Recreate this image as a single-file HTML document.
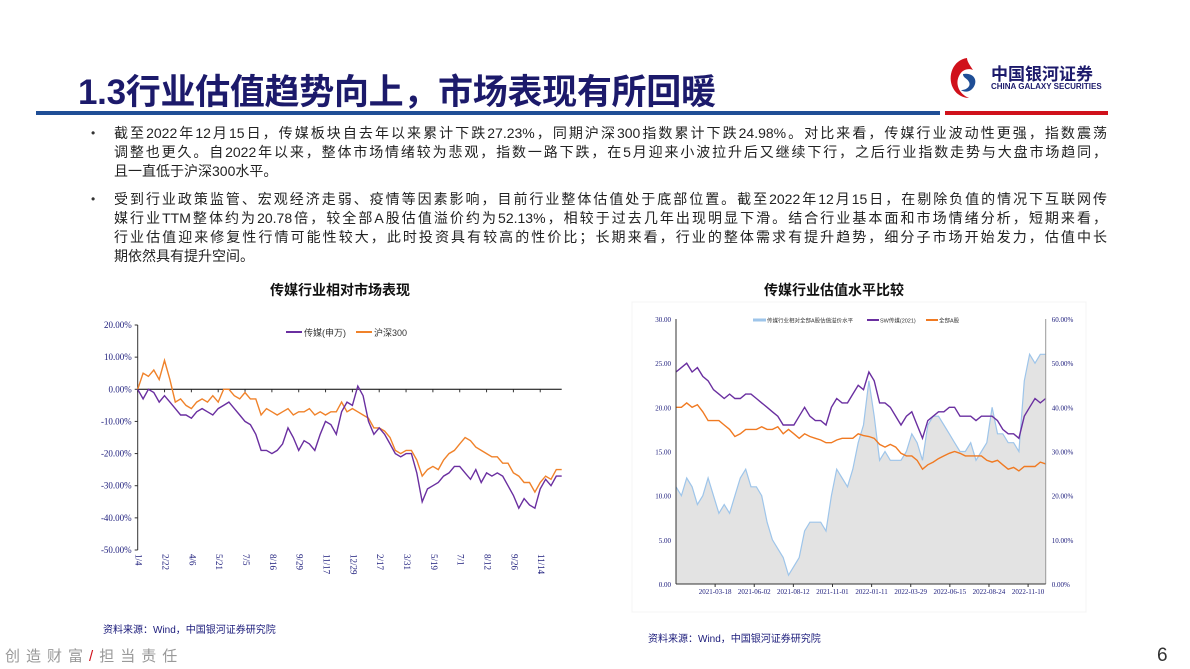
<!DOCTYPE html>
<html><head><meta charset="utf-8">
<style>
*{margin:0;padding:0;box-sizing:border-box}
body{width:1190px;height:669px;background:#fff;position:relative;overflow:hidden;font-family:"Liberation Sans","Noto Sans CJK SC",sans-serif}
.abs{position:absolute}
.title{left:78px;top:64px;font-size:35px;font-weight:bold;color:#1c1a6b;white-space:nowrap;letter-spacing:-0.3px}
.line{position:absolute;left:114px;width:993px;font-size:14px;color:#222;white-space:nowrap;text-align:justify;text-align-last:justify;line-height:19px}
.last{text-align-last:left}
.bul{position:absolute;left:91px;font-size:12px;color:#333}
.ct{position:absolute;font-size:14px;font-weight:bold;color:#111;white-space:nowrap}
.src{position:absolute;font-size:10px;color:#1a1a7a;white-space:nowrap}
</style></head><body>
<div class="abs title">1.3行业估值趋势向上，市场表现有所回暖</div>
<div class="abs" style="left:36px;top:111px;width:904px;height:4px;background:#1f4e96"></div>
<div class="abs" style="left:945px;top:111px;width:163px;height:4px;background:#d0111b"></div>
<div class="abs" style="left:947px;top:56px;width:165px;height:46px">
<svg width="34" height="44" viewBox="0 0 34 44" style="position:absolute;left:0;top:0"><path d="M20 2 C6 4 0 20 6 32 C10 40 18 42 22 42 C12 38 8 28 12 20 C15 13 22 12 26 14 C22 8 20 5 20 2Z" fill="#d0111b"/><path d="M16 18 C26 16 32 24 26 32 C22 37 16 36 14 34 C20 34 24 30 22 26 C20 22 16 22 16 18Z" fill="#1f4e96"/></svg>
<div class="abs" style="left:44px;top:4px;font-size:17px;font-weight:bold;color:#1c1a6b;white-space:nowrap">中国银河证券</div>
<div class="abs" style="left:44px;top:26px;font-size:8px;font-weight:bold;color:#1c1a6b;white-space:nowrap">CHINA GALAXY SECURITIES</div>
</div>
<div>
<div class="bul" style="top:126px">•</div>
<div class="line" style="top:124px">截至2022年12月15日，传媒板块自去年以来累计下跌27.23%，同期沪深300指数累计下跌24.98%。对比来看，传媒行业波动性更强，指数震荡</div>
<div class="line" style="top:143px">调整也更久。自2022年以来，整体市场情绪较为悲观，指数一路下跌，在5月迎来小波拉升后又继续下行，之后行业指数走势与大盘市场趋同，</div>
<div class="line last" style="top:162px">且一直低于沪深300水平。</div>
</div>
<div>
<div class="bul" style="top:192px">•</div>
<div class="line" style="top:190px">受到行业政策监管、宏观经济走弱、疫情等因素影响，目前行业整体估值处于底部位置。截至2022年12月15日，在剔除负值的情况下互联网传</div>
<div class="line" style="top:209px">媒行业TTM整体约为20.78倍，较全部A股估值溢价约为52.13%，相较于过去几年出现明显下滑。结合行业基本面和市场情绪分析，短期来看，</div>
<div class="line" style="top:228px">行业估值迎来修复性行情可能性较大，此时投资具有较高的性价比；长期来看，行业的整体需求有提升趋势，细分子市场开始发力，估值中长</div>
<div class="line last" style="top:247px">期依然具有提升空间。</div>
</div>
<div class="ct" style="left:270px;top:280px">传媒行业相对市场表现</div>
<div class="ct" style="left:764px;top:280px">传媒行业估值水平比较</div>
<svg class="abs" style="left:0;top:0" width="1190" height="669" id="charts"></svg>
<div class="src" style="left:103px;top:621px">资料来源：Wind，中国银河证券研究院</div>
<div class="src" style="left:648px;top:630px">资料来源：Wind，中国银河证券研究院</div>
<div class="abs" style="left:5px;top:645px;font-size:15px;color:#999;letter-spacing:6px;white-space:nowrap">创造财富<span style="color:#d0111b">/</span>担当责任</div>
<div class="abs" style="left:1157px;top:645px;font-size:19px;color:#333">6</div>
<script>
const leftTicks=["20.00%","10.00%","0.00%","-10.00%","-20.00%","-30.00%","-40.00%","-50.00%"];
const leftTickVals=[20,10,0,-10,-20,-30,-40,-50];
const leftDates=["1/4","2/22","4/6","5/21","7/5","8/16","9/29","11/17","12/29","2/17","3/31","5/19","7/1","8/12","9/26","11/14"];
const mediaSeries=[0,-3,0,-1,-4,-2,-4,-6,-8,-8,-9,-7,-6,-7,-8,-6,-5,-4,-6,-8,-10,-11,-14,-19,-19,-20,-19,-17,-12,-15,-19,-16,-17,-19,-14,-10,-11,-14,-7,-4,-5,1,-2,-10,-14,-12,-14,-17,-20,-21,-20,-20,-26,-35,-31,-30,-29,-27,-26,-24,-24,-26,-28,-25,-29,-26,-27,-26,-27,-30,-33,-37,-34,-36,-37,-31,-28,-30,-27,-27];
const hs300Series=[0,5,4,6,3,9,3,-4,-3,-5,-6,-4,-3,-4,-2,-4,0,0,-2,-3,-1,-3,-3,-8,-6,-7,-8,-7,-6,-8,-7,-7,-6,-8,-7,-8,-7,-7,-4,-7,-6,-7,-8,-9,-12,-12,-13,-15,-19,-20,-19,-19,-22,-27,-25,-24,-25,-22,-20,-19,-17,-15,-16,-18,-19,-20,-21,-21,-23,-23,-26,-27,-29,-29,-32,-29,-27,-28,-25,-25];
const rightLeftTicks=["30.00","25.00","20.00","15.00","10.00","5.00","0.00"];
const rightLeftVals=[30,25,20,15,10,5,0];
const rightPctTicks=["60.00%","50.00%","40.00%","30.00%","20.00%","10.00%","0.00%"];
const rightDates=["2021-03-18","2021-06-02","2021-08-12","2021-11-01","2022-01-11","2022-03-29","2022-06-15","2022-08-24","2022-11-10"];
const premiumSeries=[11,10,12,11,9,10,12,10,8,9,8,10,12,13,11,11,10,7,5,4,3,1,2,3,6,7,7,7,6,10,13,12,11,13,16,18,23,19,14,15,14,14,14,15,17,16,14,18,19,19,18,17,16,15,15,16,14,15,16,20,17,17,16,16,15,23,26,25,26,26];
const swPeSeries=[24,24.5,25,24,24.5,23.5,23,22,21.5,21,21.5,21,21,21.5,21.5,21,20.5,20,19.5,19,18,18,18,19,20,19,18.5,18.5,18,20,21,20.5,20.5,21.5,22.5,22,24,23,20.5,20.5,20,19,18,19,19.5,18,16.5,18.5,19,19.5,19.5,20,20,19,19,19,18.5,19,19,19,18.5,17.5,17,17,16.5,19,20,21,20.5,21];
const allAPeSeries=[20,20,20.5,20,20.3,19.5,18.5,18.5,18.5,18,17.5,16.7,17,17.5,17.5,17.5,17.8,17.5,17.5,17.8,17,17.5,17,16.5,17,16.7,16.5,16.3,16,16,16.3,16.5,16.5,16.5,17,16.8,16.7,16.5,15.8,15.5,15.8,15.5,14.8,14.5,14.5,14,13,13.5,13.8,14.2,14.5,14.8,15,14.8,14.5,14.5,14.5,14.5,14,13.8,14,13.5,13,13.2,12.8,13.3,13.3,13.3,13.8,13.6];

const NS="http://www.w3.org/2000/svg";
const svg=document.getElementById('charts');
function mk(tag,attrs,parent){const e=document.createElementNS(NS,tag);for(const k in attrs)e.setAttribute(k,attrs[k]);(parent||svg).appendChild(e);return e;}
function txt(s,attrs,parent){const e=mk('text',attrs,parent);e.textContent=s;return e;}

// LEFT CHART
const L={x0:137.7,x1:561.7,yTop:325,yBot:550,vTop:20,vBot:-50};
const ly=v=>L.yTop+(L.vTop-v)/(L.vTop-L.vBot)*(L.yBot-L.yTop);
const lx=i=>L.x0+i/(mediaSeries.length-1)*(L.x1-L.x0);
const gL=mk('g',{});


let ax=mk('line',{x1:L.x0,y1:L.yTop,x2:L.x0,y2:L.yBot,stroke:'#333','stroke-width':1},gL);


let zl=mk('line',{x1:L.x0,y1:ly(0),x2:L.x1,y2:ly(0),stroke:'#000','stroke-width':1},gL);


leftTickVals.forEach((v,i)=>{
  mk('line',{x1:L.x0-3,x2:L.x0,y1:ly(v),y2:ly(v),stroke:'#333'},gL);
  const t=txt(leftTicks[i],{x:L.x0-6,y:ly(v)+3,'font-size':9,'text-anchor':'end',fill:'#1a1a7a','font-family':'Liberation Serif, serif'},gL);
  
  
});
leftDates.forEach((d,i)=>{
  const x=L.x0+i*(L.x1-L.x0)/15.8;
  mk('line',{x1:x,x2:x,y1:ly(0),y2:ly(0)+3,stroke:'#333'},gL);
  const t=txt(d,{x:x,y:ly(-50)+4,'font-size':9,fill:'#1a1a7a','font-family':'Liberation Serif, serif',transform:`rotate(90 ${x} ${ly(-50)+4})`,'dominant-baseline':'middle'},gL);
  
  
});
function path(series,xf,yf){return series.map((v,i)=>(i?'L':'M')+xf(i).toFixed(1)+','+yf(v).toFixed(1)).join('');}
let p1=mk('path',{d:path(hs300Series,lx,ly),fill:'none',stroke:'#f0822a','stroke-width':1.4},gL);


let p2=mk('path',{d:path(mediaSeries,lx,ly),fill:'none',stroke:'#6a2fa0','stroke-width':1.4},gL);


let lg=mk('g',{},gL);


mk('line',{x1:286,x2:302,y1:332,y2:332,stroke:'#6a2fa0','stroke-width':2},lg);
txt('传媒(申万)',{x:304,y:336,'font-size':9,fill:'#333'},lg);
mk('line',{x1:356,x2:372,y1:332,y2:332,stroke:'#f0822a','stroke-width':2},lg);
txt('沪深300',{x:374,y:336,'font-size':9,fill:'#333'},lg);

// RIGHT CHART
const R={x0:676,x1:1045.7,yTop:319,yBot:584};
mk('rect',{x:632,y:302,width:454,height:310,fill:'#fff',stroke:'#f4f4f4'});
const ry=v=>R.yBot-v/30*(R.yBot-R.yTop);
const rx=i=>R.x0+i/(premiumSeries.length-1)*(R.x1-R.x0);
const gR=mk('g',{});


let area=mk('path',{d:path(premiumSeries,rx,ry)+`L${R.x1},${R.yBot}L${R.x0},${R.yBot}Z`,fill:'#e3e3e3',stroke:'none'},gR);


let pl=mk('path',{d:path(premiumSeries,rx,ry),fill:'none',stroke:'#9ec5ea','stroke-width':1.2},gR);


let sw=mk('path',{d:path(swPeSeries,rx,ry),fill:'none',stroke:'#6a2fa0','stroke-width':1.4},gR);


let aa=mk('path',{d:path(allAPeSeries,rx,ry),fill:'none',stroke:'#f07a22','stroke-width':1.4},gR);


mk('line',{x1:R.x0,y1:R.yTop,x2:R.x0,y2:R.yBot,stroke:'#333'},gR);
mk('line',{x1:R.x1,y1:R.yTop,x2:R.x1,y2:R.yBot,stroke:'#999'},gR);
mk('line',{x1:R.x0,y1:R.yBot,x2:R.x1,y2:R.yBot,stroke:'#333'},gR);
rightLeftVals.forEach((v,i)=>{
  const t=txt(rightLeftTicks[i],{x:R.x0-5,y:ry(v)+3,'font-size':7,'text-anchor':'end',fill:'#1a1a7a','font-family':'Liberation Serif, serif'},gR);
  
  
  const t2=txt(rightPctTicks[i],{x:R.x1+6,y:ry(v)+3,'font-size':7,fill:'#1a1a7a','font-family':'Liberation Serif, serif'},gR);
  
  
});
rightDates.forEach((d,i)=>{
  const x=R.x0+(i+1)*(R.x1-R.x0)/9.45;
  mk('line',{x1:x,x2:x,y1:R.yBot,y2:R.yBot+3,stroke:'#333'},gR);
  const t=txt(d,{x:x,y:R.yBot+10,'font-size':7,'text-anchor':'middle',fill:'#1a1a7a','font-family':'Liberation Serif, serif'},gR);
  
  
});
let rl=mk('g',{},gR);


mk('line',{x1:753,x2:766,y1:320,y2:320,stroke:'#9ec5ea','stroke-width':3},rl);
txt('传媒行业相对全部A股估值溢价水平',{x:767,y:322.5,'font-size':5.5,fill:'#333'},rl);
mk('line',{x1:867,x2:879,y1:320,y2:320,stroke:'#6a2fa0','stroke-width':2},rl);
txt('SW传媒(2021)',{x:880,y:322.5,'font-size':5.5,fill:'#333'},rl);
mk('line',{x1:926,x2:938,y1:320,y2:320,stroke:'#f07a22','stroke-width':2},rl);
txt('全部A股',{x:939,y:322.5,'font-size':5.5,fill:'#333'},rl);
</script>
</body></html>
